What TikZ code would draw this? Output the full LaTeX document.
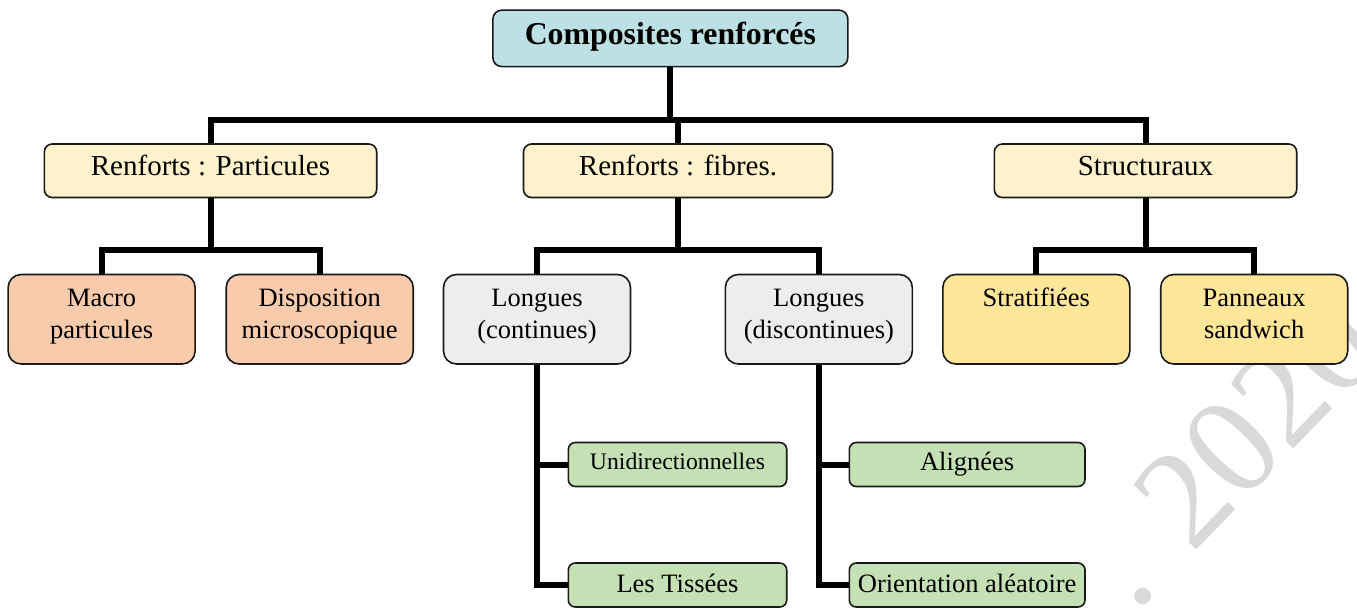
\documentclass[tikz,border=0pt]{standalone}
\usepackage{fontspec}
\setmainfont{Liberation Serif}
\definecolor{topfill}{RGB}{189,224,228}
\definecolor{catfill}{RGB}{255,242,204}
\definecolor{peach}{RGB}{248,203,173}
\definecolor{lgray}{RGB}{237,237,237}
\definecolor{gold}{RGB}{255,230,153}
\definecolor{leaf}{RGB}{197,224,180}
\definecolor{edge}{RGB}{25,25,25}
\definecolor{wmark}{RGB}{217,217,217}
\tikzset{
  conn/.style={line width=6pt, line join=miter, line cap=butt, draw=black},
  boxbase/.style={draw=edge, line width=1.6pt, inner sep=0pt},
  topbox/.style={boxbase, rounded corners=9pt, fill=topfill, minimum width=355pt, minimum height=56.5pt},
  catbox/.style={boxbase, rounded corners=8pt, fill=catfill, minimum height=53.5pt},
  subbox/.style={boxbase, rounded corners=13pt, minimum width=187pt, minimum height=89.5pt},
  leafbox/.style={boxbase, rounded corners=7pt, fill=leaf, minimum height=44pt},
  lbl/.style={inner sep=0pt, anchor=base},
  ftop/.style={font=\fontsize{31.8}{36}\selectfont\bfseries},
  fcat/.style={font=\fontsize{29}{33}\selectfont},
  fsub/.style={font=\fontsize{26.5}{32}\selectfont},
  fleaf/.style={font=\fontsize{26.5}{30}\selectfont},
}
\newcommand{\twolines}[2]{\begin{tabular}[t]{@{}c@{}}#1\\#2\end{tabular}}
\begin{document}
\begin{tikzpicture}[x=1pt, y=-1pt]
\useasboundingbox (0,0) rectangle (1357,608);

% faint watermark behind the chart
\begin{scope}
  \clip (0,0) rectangle (1357,608);
  \node[inner sep=0pt, anchor=base west, rotate=46, text=wmark,
        font=\fontsize{140}{140}\selectfont] (wm) at (1135.4,613.4) {. 2020};
\end{scope}

% root
\node[topbox] (top) at (670.35,38.35) {};
% categories
\node[catbox, minimum width=332.4pt] (partic) at (210.5,170.75) {};
\node[catbox, minimum width=309pt]   (fibres) at (678,170.75) {};
\node[catbox, minimum width=302.4pt] (struct) at (1145.5,170.75) {};
% sub-families
\node[subbox, fill=peach] (macro) at (101.65,319.25) {};
\node[subbox, fill=peach] (dispo) at (319.7,319.25) {};
\node[subbox, fill=lgray] (cont)  at (537,319.25) {};
\node[subbox, fill=lgray] (disc)  at (818.85,319.25) {};
\node[subbox, fill=gold]  (strat) at (1036.3,319.25) {};
\node[subbox, fill=gold]  (pann)  at (1254.2,319.25) {};
% fibre arrangements
\node[leafbox, minimum width=218.4pt] (uni)    at (677.5,464.5) {};
\node[leafbox, minimum width=218.4pt] (tiss)   at (677.5,585) {};
\node[leafbox, minimum width=235.7pt] (alig)   at (967.15,464.5) {};
\node[leafbox, minimum width=235.7pt] (orient) at (967.15,585) {};

% connectors
\coordinate (bar0) at (0,120);
\coordinate (bar1) at (0,250);
\draw[conn] (top.south) -- (top.south |- bar0);
\draw[conn] (partic.north) |- (struct.north |- bar0) -- (struct.north);
\draw[conn] (fibres.north) -- (fibres.north |- bar0);

\draw[conn] (partic.south) -- (partic.south |- bar1);
\draw[conn] (macro.north) |- (dispo.north |- bar1) -- (dispo.north);
\draw[conn] (fibres.south) -- (fibres.south |- bar1);
\draw[conn] (cont.north) |- (disc.north |- bar1) -- (disc.north);
\draw[conn] (struct.south) -- (struct.south |- bar1);
\draw[conn] (strat.north) |- (pann.north |- bar1) -- (pann.north);

\draw[conn] (cont.south) |- (tiss.west);
\draw[conn] (cont.south |- uni.west) -- (uni.west);
\draw[conn] (disc.south) |- (orient.west);
\draw[conn] (disc.south |- alig.west) -- (alig.west);

% labels
\node[lbl, ftop] (top-t) at (670.35,44) {Composites renforcés};
\node[lbl, fcat] (partic-t) at (210.5,175) {Renforts : Particules};
\node[lbl, fcat] (fibres-t) at (678,175) {Renforts : fibres.};
\node[lbl, fcat] (struct-t) at (1145.5,175) {Structuraux};

\node[lbl, fsub] (macro-t) at (101.65,306) {\twolines{Macro}{particules}};
\node[lbl, fsub] (dispo-t) at (319.7,306) {\twolines{Disposition}{microscopique}};
\node[lbl, fsub] (cont-t)  at (537,306) {\twolines{Longues}{(continues)}};
\node[lbl, fsub] (disc-t)  at (818.85,306) {\twolines{Longues}{(discontinues)}};
\node[lbl, fsub] (strat-t) at (1036.3,306) {Stratifiées};
\node[lbl, fsub] (pann-t)  at (1254.2,306) {\twolines{Panneaux}{sandwich}};

\node[lbl, font=\fontsize{23.7}{28}\selectfont] (uni-t) at (677.5,469.5) {Unidirectionnelles};
\node[lbl, fleaf] (tiss-t)   at (677.5,592) {Les Tissées};
\node[lbl, fleaf] (alig-t)   at (967.15,470) {Alignées};
\node[lbl, fleaf] (orient-t) at (967.15,592) {Orientation aléatoire};
\end{tikzpicture}
\end{document}
